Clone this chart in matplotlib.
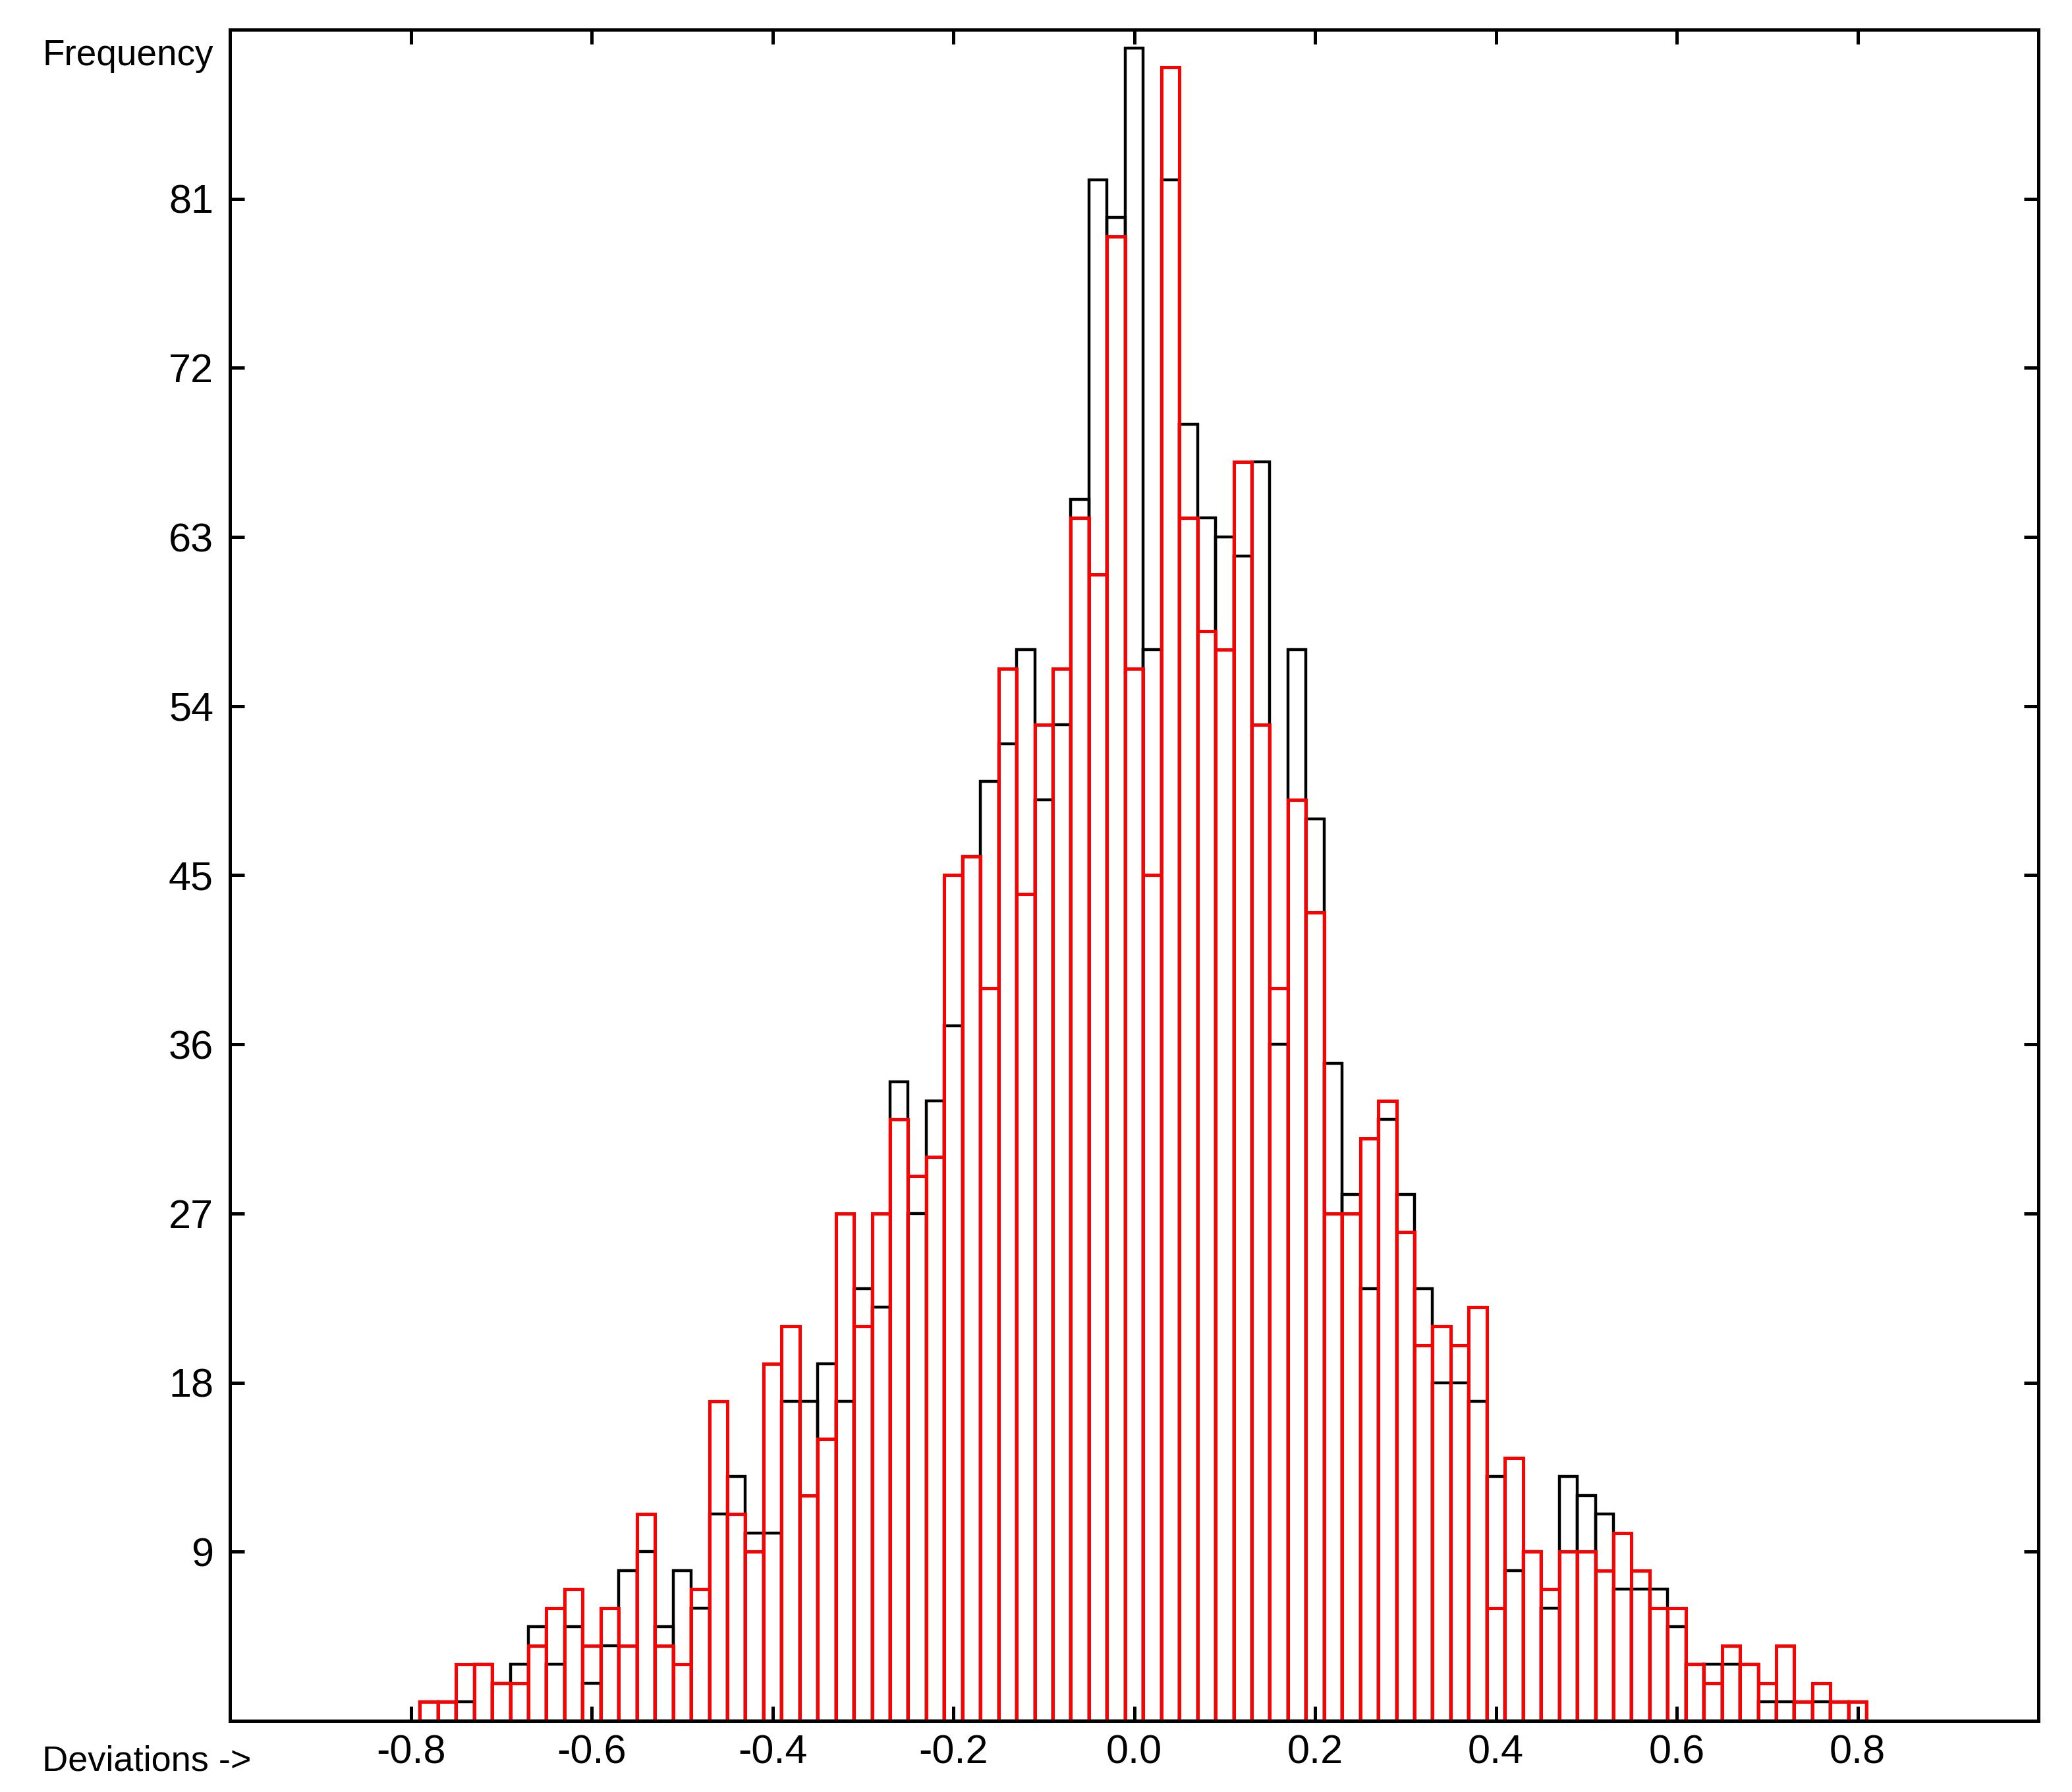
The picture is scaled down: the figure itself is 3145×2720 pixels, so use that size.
import numpy as np
import matplotlib
matplotlib.use("Agg")
import matplotlib.pyplot as plt

plt.rcParams['font.family'] = ['Liberation Sans', 'DejaVu Sans']
plt.rcParams['axes.unicode_minus'] = False

# Histogram bins: width 0.02, edges from -0.79 to 0.81 (80 bins)
bin_edges = np.round(np.linspace(-0.79, 0.81, 81), 3)
bin_centers = (bin_edges[:-1] + bin_edges[1:]) / 2

black_counts = [1, 1, 1, 3, 2, 3, 5, 3, 5, 2,
                4, 8, 9, 5, 8, 6, 11, 13, 10, 10,
                17, 17, 19, 17, 23, 22, 34, 27, 33, 37,
                46, 50, 52, 57, 49, 53, 65, 82, 80, 89,
                57, 82, 69, 64, 63, 62, 67, 36, 57, 48,
                35, 28, 23, 32, 28, 23, 18, 18, 17, 13,
                8, 9, 6, 13, 12, 11, 7, 7, 7, 5,
                3, 3, 3, 3, 1, 1, 1, 1, 1, 1]

red_counts = [1, 1, 3, 3, 2, 2, 4, 6, 7, 4,
              6, 4, 11, 4, 3, 7, 17, 11, 9, 19,
              21, 12, 15, 27, 21, 27, 32, 29, 30, 45,
              46, 39, 56, 44, 53, 56, 64, 61, 79, 56,
              45, 88, 64, 58, 57, 67, 53, 39, 49, 43,
              27, 27, 31, 33, 26, 20, 21, 20, 22, 6,
              14, 9, 7, 9, 9, 8, 10, 8, 6, 6,
              3, 2, 4, 3, 2, 4, 1, 2, 1, 1]

x_ticks = [-0.8, -0.6, -0.4, -0.2, 0.0, 0.2, 0.4, 0.6, 0.8]
x_tick_labels = ["-0.8", "-0.6", "-0.4", "-0.2", "0.0", "0.2", "0.4", "0.6", "0.8"]
y_ticks = [9, 18, 27, 36, 45, 54, 63, 72, 81]
y_tick_labels = [str(v) for v in y_ticks]

fig = plt.figure(figsize=(31.45, 27.2), dpi=100)
ax = fig.add_axes([0.1110, 0.0397, 0.8728, 0.9438])

ax.bar(bin_centers, black_counts, width=0.02, fill=False,
       edgecolor='black', linewidth=3.2, zorder=2)
ax.bar(bin_centers, red_counts, width=0.02, fill=False,
       edgecolor='#ff0000', linewidth=3.6, zorder=3)

ax.set_xlim(-1.0, 1.0)
ax.set_ylim(0, 90)
ax.set_xticks(x_ticks)
ax.set_xticklabels(x_tick_labels)
ax.set_yticks(y_ticks)
ax.set_yticklabels(y_tick_labels)

for s in ax.spines.values():
    s.set_linewidth(3.6)
    s.set_zorder(5)

ax.tick_params(axis='both', direction='in', length=16, width=3.6,
               top=True, right=True, labelsize=44, colors='black')
ax.tick_params(axis='y', pad=18)
ax.tick_params(axis='x', pad=15)

fig.text(0.0204, 0.9636, "Frequency", fontsize=39.5, ha='left', va='baseline')
fig.text(0.0204, 0.0118, "Deviations ->", fontsize=39, ha='left', va='baseline')

fig.savefig("out.png", dpi=100)
